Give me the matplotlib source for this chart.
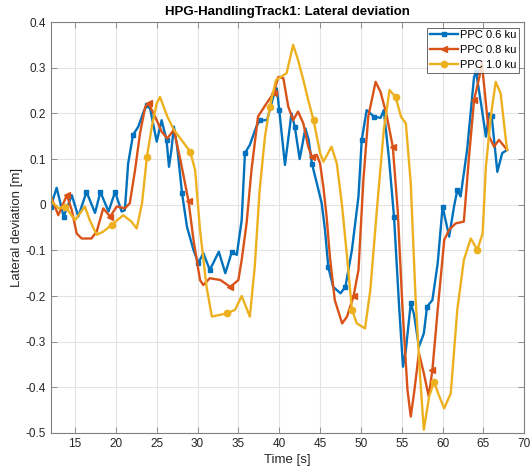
import numpy as np
import matplotlib
matplotlib.use("Agg")
import matplotlib.pyplot as plt
from matplotlib.ticker import FuncFormatter, MultipleLocator

plt.rcParams['font.family'] = ['Liberation Sans', 'DejaVu Sans']

# --- data --------------------------------------------------------------
t_06 = [12.0, 12.75, 13.6, 14.6, 15.4, 16.4, 17.45, 18.1, 19.1, 19.9, 20.7, 21.1,
        21.5, 22.1, 22.75, 23.4, 23.8, 24.2, 25.0, 25.6, 26.2, 26.5, 26.8, 27.1,
        27.5, 28.1, 28.7, 29.5, 30.1, 30.7, 31.5, 32.6, 33.4, 34.2, 34.8, 35.4,
        35.8, 36.4, 37.2, 37.6, 38.5, 39.5, 39.7, 40.0, 40.7, 41.5, 41.9, 42.5,
        43.2, 43.6, 44.0, 44.6, 45.2, 45.6, 46.0, 46.6, 47.5, 48.1, 48.9, 49.7,
        50.1, 50.7, 51.6, 52.4, 52.8, 53.45, 54.05, 54.7, 55.15, 55.5, 56.1, 56.5,
        57.1, 57.7, 58.1, 58.75, 59.4, 60.0, 60.8, 61.4, 61.8, 62.2, 63.0, 63.85,
        64.1, 64.7, 65.3, 65.7, 66.0, 66.7, 67.3, 67.9]
y_06 = [-0.005, 0.037, -0.026, 0.021, -0.026, 0.028, -0.018, 0.028, -0.015, 0.028, -0.015, -0.012,
        0.09, 0.153, 0.171, 0.204, 0.218, 0.21, 0.138, 0.185, 0.142, 0.083, 0.12, 0.171,
        0.127, 0.025, -0.048, -0.099, -0.128, -0.106, -0.143, -0.103, -0.150, -0.103, -0.11, -0.034,
        0.113, 0.131, 0.171, 0.185, 0.185, 0.251, 0.255, 0.207, 0.087, 0.2, 0.171, 0.10,
        0.167, 0.142, 0.09, 0.047, 0.003, -0.055, -0.136, -0.18, -0.194, -0.18, -0.099, 0.018,
        0.142, 0.207, 0.193, 0.19, 0.207, 0.098, -0.026, -0.23, -0.355, -0.318, -0.216, -0.24,
        -0.311, -0.282, -0.223, -0.209, -0.128, -0.004, -0.07, -0.004, 0.032, 0.018, 0.12, 0.28,
        0.29, 0.222, 0.149, 0.2, 0.195, 0.072, 0.113, 0.12]

t_08 = [12.0, 12.95, 14.0, 14.6, 15.2, 15.8, 17.0, 17.65, 18.45, 19.3, 20.1, 21.1,
        21.7, 22.35, 22.95, 23.6, 24.0, 25.0, 25.6, 26.3, 27.1, 27.9, 28.9, 29.5,
        30.3, 30.7, 31.5, 32.8, 34.0, 35.0, 35.4, 36.0, 36.6, 37.4, 38.45, 39.3,
        39.9, 40.5, 41.1, 41.7, 42.3, 42.95, 43.55, 44.0, 44.6, 45.0, 45.4, 45.8,
        46.2, 46.8, 47.7, 48.3, 49.1, 49.7, 50.3, 50.9, 51.8, 52.4, 53.1, 53.9,
        54.5, 55.1, 55.7, 56.1, 56.5, 57.1, 57.7, 58.3, 58.75, 59.4, 60.2, 60.8,
        61.6, 62.6, 63.2, 63.85, 64.5, 64.8, 65.2, 65.7, 66.3, 66.9, 67.9]
y_08 = [0.02, -0.023, 0.021, -0.012, -0.063, -0.074, -0.074, -0.059, -0.008, -0.026, -0.004, -0.008,
        0.003, 0.076, 0.156, 0.215, 0.222, 0.185, 0.16, 0.145, 0.164, 0.098, 0.007, -0.077,
        -0.165, -0.176, -0.161, -0.165, -0.18, -0.165, -0.121, -0.041, 0.076, 0.193, 0.222, 0.244,
        0.28, 0.277, 0.215, 0.185, 0.204, 0.178, 0.127, 0.105, 0.109, 0.09, 0.039, -0.026,
        -0.114, -0.209, -0.26, -0.245, -0.2, -0.143, 0.054, 0.193, 0.269, 0.247, 0.2, 0.127,
        -0.012, -0.23, -0.406, -0.464, -0.413, -0.325, -0.369, -0.42, -0.362, -0.23, -0.077, -0.055,
        -0.041, -0.037, 0.098, 0.229, 0.28, 0.31, 0.24, 0.149, 0.127, 0.142, 0.12]

t_10 = [12.0, 12.15, 12.95, 13.8, 15.0, 16.2, 16.8, 17.65, 18.45, 19.5, 20.9, 21.9,
        22.55, 23.2, 23.8, 24.4, 25.0, 25.4, 26.3, 27.1, 27.9, 29.1, 29.7, 30.3,
        31.1, 31.75, 32.55, 33.6, 34.6, 35.4, 36.4, 37.0, 37.6, 38.25, 38.85, 39.6,
        40.9, 41.7, 42.3, 42.95, 43.55, 44.2, 45.0, 45.4, 46.4, 47.05, 47.7, 48.3,
        48.9, 49.5, 50.5, 51.15, 51.95, 52.8, 53.5, 54.25, 54.9, 55.5, 56.1, 56.7,
        57.3, 57.7, 58.35, 58.95, 59.6, 60.2, 61.0, 61.8, 62.6, 63.45, 64.25, 64.9,
        65.3, 65.9, 66.5, 67.1, 67.7, 67.9]
y_10 = [0.025, 0.007, -0.008, -0.004, -0.034, -0.004, -0.034, -0.066, -0.059, -0.044, -0.023, -0.037,
        -0.052, 0.003, 0.105, 0.171, 0.222, 0.236, 0.193, 0.164, 0.145, 0.116, 0.076, -0.055,
        -0.18, -0.245, -0.242, -0.238, -0.23, -0.2, -0.245, -0.136, 0.032, 0.149, 0.215, 0.273,
        0.288, 0.35, 0.317, 0.273, 0.229, 0.185, 0.113, 0.094, 0.127, 0.09, -0.004, -0.114,
        -0.23, -0.26, -0.271, -0.187, -0.012, 0.164, 0.251, 0.236, 0.193, 0.178, 0.047, -0.209,
        -0.391, -0.493, -0.42, -0.388, -0.42, -0.446, -0.413, -0.23, -0.121, -0.074, -0.099, -0.063,
        0.083, 0.193, 0.269, 0.244, 0.149, 0.12]

labels = ['PPC 0.6 ku', 'PPC 0.8 ku', 'PPC 1.0 ku']
colors = ['#0072BD', '#D95319', '#EDB120']
markers = ['s', '<', 'o']
msizes = [3.5, 5, 4.5]
# marker spacing (s) and first marker time for each run
mk_step = [2.0, 5.0, 5.0]
mk_start = [12.0, 14.0, 14.0]


def marker_idx(t, step, start):
    # nearest sample to every `step` seconds
    t = np.asarray(t)
    idx = [int(np.argmin(np.abs(t - m))) for m in np.arange(start, t[-1], step)]
    return sorted(set(idx))


fig = plt.figure(figsize=(5.32, 4.74), dpi=100)
ax = fig.add_axes([0.095, 0.0865, 0.8905, 0.867])

series = [(t_06, y_06), (t_08, y_08), (t_10, y_10)]
for i, (t, y) in enumerate(series):
    ax.plot(t, y, color=colors[i], lw=1.7, marker=markers[i], ms=msizes[i],
            markevery=marker_idx(t, mk_step[i], mk_start[i]), label=labels[i])

ax.set_xlim(12, 70)
ax.set_ylim(-0.5, 0.4)
ax.xaxis.set_major_locator(MultipleLocator(5))
ax.yaxis.set_major_locator(MultipleLocator(0.1))
ax.yaxis.set_major_formatter(FuncFormatter(lambda v, p: ('%g' % round(v, 2))))
ax.grid(True, color='#e3e3e3', lw=0.8)
ax.set_axisbelow(True)
for s in ax.spines.values():
    s.set_color('#808080')
    s.set_linewidth(0.8)
ax.tick_params(direction='in', length=4, width=0.6, color='#808080',
               labelsize=8.5, labelcolor='#262626', top=True, right=True,
               labeltop=False, labelright=False)

ax.set_xlabel('Time [s]', fontsize=9.5, color='#262626', labelpad=3)
ax.set_ylabel('Lateral deviation [m]', fontsize=9.5, color='#262626', labelpad=2)
ax.set_title('HPG-HandlingTrack1: Lateral deviation', fontsize=9.5,
             fontweight='bold', color='#000000', pad=5)

leg = ax.legend(loc='upper right', fontsize=8, frameon=True, fancybox=False,
                borderpad=0.25, labelspacing=0.45, handlelength=2.5,
                handletextpad=0.15, borderaxespad=0.5)
leg.get_frame().set_edgecolor('#262626')
leg.get_frame().set_linewidth(0.6)

fig.savefig('out.png', dpi=100)
